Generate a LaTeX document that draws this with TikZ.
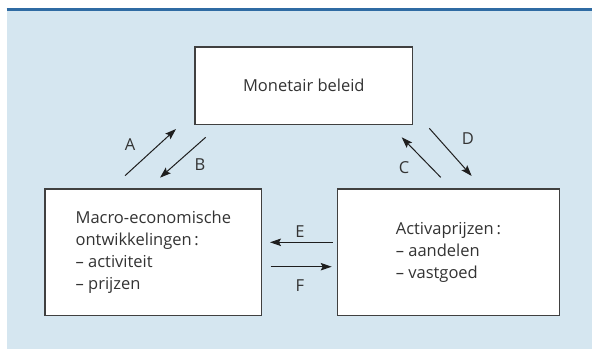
\documentclass[tikz,border=0pt]{standalone}
\usepackage{fontspec}
\setmainfont{Open Sans}
\usetikzlibrary{arrows.meta}
\definecolor{bgblue}{HTML}{D5E6F0}
\definecolor{topline}{HTML}{2F6BA3}
\definecolor{boxline}{HTML}{404040}
\definecolor{txt}{HTML}{333333}
\definecolor{arr}{HTML}{1E1E1E}
\begin{document}
\begin{tikzpicture}[x=1pt,y=-1pt,
  every node/.style={font=\fontsize{16.5}{22}\selectfont, text=txt},
  box/.style={draw=boxline, line width=1.3pt, fill=white, rectangle, inner sep=0pt, align=left},
  conn/.style={draw=arr, line width=1pt, -{Stealth[length=11pt,width=7.5pt,inset=2pt]}},
  lbl/.style={inner sep=0pt}]
\useasboundingbox (0,0) rectangle (592,349);
\fill[bgblue] (6.5,10) rectangle (592,349);
\draw[topline, line width=2.2pt] (6.5,9.5) -- (592,9.5);

\node[box, minimum width=217.7pt, minimum height=77.3pt] (mon) at (303.85,85.65) {Monetair beleid};
\node[box, minimum width=216.7pt, minimum height=126.7pt] (mac) at (153.35,252.35)
  {Macro-economische\\ontwikkelingen\,:\\– activiteit\\– prijzen};
\node[box, minimum width=221.8pt, minimum height=126.7pt] (act) at (448.4,252.35)
  {Activaprijzen\,:\\– aandelen\\– vastgoed};

\coordinate (a1) at (125,175.7);  \coordinate (a2) at (176,129);
\coordinate (b1) at (205.7,137.3); \coordinate (b2) at (160,177.7);
\coordinate (c1) at (440.7,177.3); \coordinate (c2) at (401.7,137.3);
\coordinate (d1) at (429.3,128.3); \coordinate (d2) at (471.7,176);
\coordinate (e1) at (332.7,242.3); \coordinate (e2) at (270,242.3);
\coordinate (f1) at (270.7,266.7); \coordinate (f2) at (331.7,266.7);

\draw[conn] (a1) -- (a2);
\draw[conn] (b1) -- (b2);
\draw[conn] (c1) -- (c2);
\draw[conn] (d1) -- (d2);
\draw[conn] (e1) -- (e2);
\draw[conn] (f1) -- (f2);

\node[lbl] (la) at (130,145) {A};
\node[lbl] (lb) at (200,165) {B};
\node[lbl] (lc) at (404,168) {C};
\node[lbl] (ld) at (468,139) {D};
\node[lbl] (le) at (300,232) {E};
\node[lbl] (lf) at (300,285.5) {F};
\end{tikzpicture}
\end{document}
